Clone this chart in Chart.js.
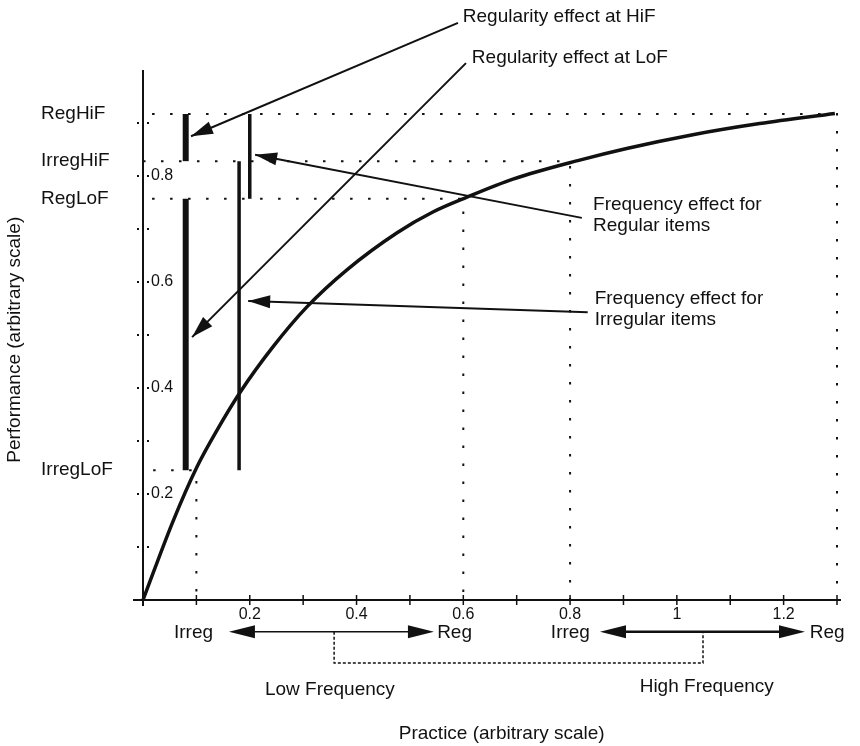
<!DOCTYPE html>
<html lang="en">
<head>
<meta charset="UTF-8">
<title>Practice and performance</title>
<script src="https://cdn.jsdelivr.net/npm/chart.js"></script>
<style>
  html, body { margin: 0; padding: 0; background: #fff; }
  .chart-box { width: 860px; height: 746px; position: relative; }
</style>
</head>
<body>
<div class="chart-box"><canvas id="practiceChart"></canvas></div>
<script>
// learning curve (practice, performance)
const curveX = [0, 0.056, 0.101, 0.139, 0.182, 0.243, 0.307, 0.382, 0.476, 0.543, 0.607, 0.693, 0.818, 0.906, 1.03, 1.155, 1.296];
const curveY = [0, 0.148, 0.251, 0.321, 0.392, 0.477, 0.553, 0.623, 0.693, 0.732, 0.760, 0.794, 0.830, 0.852, 0.878, 0.899, 0.918];

// the four item types and where they sit on the curve
const levelNames = ['RegHiF', 'IrregHiF', 'RegLoF', 'IrregLoF'];
const levelValues = [0.917, 0.828, 0.757, 0.245];
const levelPractice = [1.3, 0.8, 0.6, 0.1];
const levelStart = [0.017, 0, 0.017, 0.019];

// effect bars
const barX = [0.08, 0.08, 0.18, 0.2];
const barFrom = [0.245, 0.828, 0.245, 0.757];
const barTo = [0.757, 0.917, 0.828, 0.917];

const xTickMarks = [0.1, 0.2, 0.3, 0.4, 0.5, 0.6, 0.7, 0.8, 0.9, 1, 1.1, 1.2, 1.3];
const xTickLabels = ['0.2', '0.4', '0.6', '0.8', '1', '1.2'];
const yTickMarks = [0.1, 0.2, 0.3, 0.4, 0.5, 0.6, 0.7, 0.8, 0.9];
const yTickLabels = ['0.2', '0.4', '0.6', '0.8'];

const ink = '#111';
const font = "'Liberation Sans', Arial, sans-serif";

const datasets = [];
datasets.push({
  data: curveX.map((v, i) => ({ x: v, y: curveY[i] })),
  borderColor: ink, borderWidth: 3.5, pointRadius: 0,
  cubicInterpolationMode: 'monotone', fill: false
});
levelValues.forEach((v, i) => {
  datasets.push({
    data: [{ x: levelStart[i], y: v }, { x: levelPractice[i], y: v }, { x: levelPractice[i], y: 0 }],
    borderColor: ink, borderWidth: 2, borderDash: [2.5, 15.5], pointRadius: 0, fill: false
  });
});
barX.forEach((v, i) => {
  datasets.push({
    data: [{ x: v, y: barFrom[i] }, { x: v, y: barTo[i] }],
    borderColor: ink, borderWidth: i < 2 ? 6 : 3.5, pointRadius: 0, fill: false,
    borderCapStyle: 'butt'
  });
});

// call-outs, in chart units
const arrows = [
  { from: [0.590, 1.089], to: [0.090, 0.875] },
  { from: [0.605, 1.013], to: [0.092, 0.496] },
  { from: [0.822, 0.721], to: [0.210, 0.840] },
  { from: [0.833, 0.543], to: [0.197, 0.564] }
];
const notes = [
  { text: 'Regularity effect at HiF', at: [0.599, 1.100] },
  { text: 'Regularity effect at LoF', at: [0.616, 1.023] },
  { text: 'Frequency effect for', at: [0.843, 0.745] },
  { text: 'Regular items', at: [0.843, 0.706] },
  { text: 'Frequency effect for', at: [0.846, 0.568] },
  { text: 'Irregular items', at: [0.846, 0.528] },
  { text: 'Irreg', at: [0.058, -0.062] },
  { text: 'Reg', at: [0.551, -0.062] },
  { text: 'Irreg', at: [0.764, -0.062] },
  { text: 'Reg', at: [1.249, -0.062] }
];

function arrowHead(ctx, x1, y1, x2, y2, len, half) {
  const a = Math.atan2(y2 - y1, x2 - x1);
  ctx.beginPath();
  ctx.moveTo(x2, y2);
  ctx.lineTo(x2 - len * Math.cos(a) + half * Math.sin(a), y2 - len * Math.sin(a) - half * Math.cos(a));
  ctx.lineTo(x2 - len * Math.cos(a) - half * Math.sin(a), y2 - len * Math.sin(a) + half * Math.cos(a));
  ctx.closePath();
  ctx.fill();
}

const frame = {
  id: 'frame',
  beforeDatasetsDraw(chart) {
    const { ctx, scales: { x, y } } = chart;
    const x0 = x.getPixelForValue(0), y0 = y.getPixelForValue(0);
    ctx.save();
    ctx.strokeStyle = ink; ctx.fillStyle = ink; ctx.lineWidth = 2;
    ctx.beginPath(); ctx.moveTo(x0, y.getPixelForValue(1)); ctx.lineTo(x0, y0 + 6); ctx.stroke();
    ctx.beginPath(); ctx.moveTo(x0 - 10, y0); ctx.lineTo(x.getPixelForValue(1.3) + 4, y0); ctx.stroke();
    ctx.lineWidth = 1.5;
    xTickMarks.forEach(t => {
      const px = x.getPixelForValue(t);
      ctx.beginPath(); ctx.moveTo(px, y0 - 5); ctx.lineTo(px, y0 + 5); ctx.stroke();
    });
    yTickMarks.forEach(t => {
      const py = y.getPixelForValue(t);
      ctx.fillRect(x0 - 6, py - 1, 2, 2);
      ctx.fillRect(x0 + 4, py - 1, 2, 2);
    });
    ctx.font = '16px ' + font;
    ctx.textAlign = 'center'; ctx.textBaseline = 'middle';
    xTickLabels.forEach(l => ctx.fillText(l, x.getPixelForValue(parseFloat(l)), y0 + 15));
    ctx.textAlign = 'left';
    yTickLabels.forEach(l => ctx.fillText(l, x0 + 8, y.getPixelForValue(parseFloat(l))));
    ctx.restore();
  },
  afterDatasetsDraw(chart) {
    const { ctx, scales: { x, y } } = chart;
    const X = v => x.getPixelForValue(v), Y = v => y.getPixelForValue(v);
    ctx.save();
    ctx.strokeStyle = ink; ctx.fillStyle = ink;

    ctx.lineWidth = 2;
    arrows.forEach(a => {
      const x1 = X(a.from[0]), y1 = Y(a.from[1]), x2 = X(a.to[0]), y2 = Y(a.to[1]);
      ctx.beginPath(); ctx.moveTo(x1, y1); ctx.lineTo(x2, y2); ctx.stroke();
      arrowHead(ctx, x1, y1, x2, y2, 22, 6.5);
    });

    // practice ranges under the axis
    const ay = Y(-0.060);
    [[0.161, 0.545, 1.5], [0.856, 1.240, 2.5]].forEach(r => {
      const a = X(r[0]), b = X(r[1]);
      ctx.lineWidth = r[2];
      ctx.beginPath(); ctx.moveTo(a + 10, ay); ctx.lineTo(b - 10, ay); ctx.stroke();
      arrowHead(ctx, b, ay, a, ay, 26, 6.5);
      arrowHead(ctx, a, ay, b, ay, 26, 6.5);
    });
    ctx.lineWidth = 1.5;
    ctx.setLineDash([3, 2]);
    ctx.beginPath();
    ctx.moveTo(X(0.358), ay); ctx.lineTo(X(0.358), Y(-0.119));
    ctx.lineTo(X(1.049), Y(-0.119)); ctx.lineTo(X(1.049), ay);
    ctx.stroke();
    ctx.setLineDash([]);

    ctx.font = '19px ' + font;
    ctx.textBaseline = 'middle'; ctx.textAlign = 'left';
    notes.forEach(n => ctx.fillText(n.text, X(n.at[0]), Y(n.at[1])));
    levelNames.forEach((n, i) => ctx.fillText(n, X(-0.191), Y(levelValues[i])));

    ctx.textAlign = 'center';
    ctx.fillText('Low Frequency', X(0.350), Y(-0.170));
    ctx.fillText('High Frequency', X(1.056), Y(-0.164));
    ctx.fillText('Practice (arbitrary scale)', X(0.672), Y(-0.253));

    ctx.translate(X(-0.240), Y(0.491));
    ctx.rotate(-Math.PI / 2);
    ctx.fillText('Performance (arbitrary scale)', 0, 0);
    ctx.restore();
  }
};

new Chart(document.getElementById('practiceChart'), {
  type: 'line',
  data: { datasets: datasets },
  options: {
    responsive: true,
    maintainAspectRatio: false,
    animation: false,
    layout: { padding: { left: 143, right: 23, top: 70, bottom: 146 } },
    scales: {
      x: { type: 'linear', min: 0, max: 1.3, display: false },
      y: { type: 'linear', min: 0, max: 1.0, display: false }
    },
    plugins: { legend: { display: false }, tooltip: { enabled: false } },
    elements: { line: { tension: 0 } },
    datasets: { line: { clip: false } }
  },
  plugins: [frame]
});
</script>
</body>
</html>
